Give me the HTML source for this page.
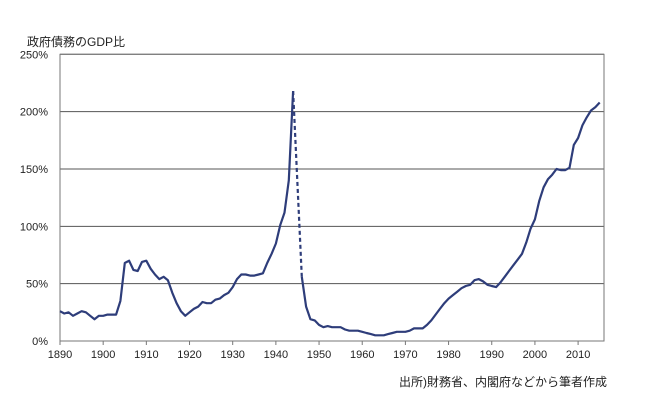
<!DOCTYPE html>
<html><head><meta charset="utf-8"><style>
body{margin:0;background:#fff;width:650px;height:414px;overflow:hidden}
text{font-family:"Liberation Sans","Noto Sans CJK JP",sans-serif;fill:#222}
</style></head><body>
<svg id="chart" width="650" height="414" viewBox="0 0 650 414" xmlns="http://www.w3.org/2000/svg">
<text x="27" y="46" font-size="12">政府債務のGDP比</text>
<g id="grid"></g><g id="axes"></g><g id="series"></g>
<text x="607" y="386" font-size="12" text-anchor="end">出所)財務省、内閣府などから筆者作成</text>
</svg>
<script>
const years1 = [1890,1891,1892,1893,1894,1895,1896,1897,1898,1899,1900,1901,1902,1903,1904,1905,1906,1907,1908,1909,1910,1911,1912,1913,1914,1915,1916,1917,1918,1919,1920,1921,1922,1923,1924,1925,1926,1927,1928,1929,1930,1931,1932,1933,1934,1935,1936,1937,1938,1939,1940,1941,1942,1943,1944];
const values1 = [26,24,25,22,24,26,25,22,19,22,22,23,23,23,35,68,70,62,61,69,70,63,58,54,56,53,42,33,26,22,25,28,30,34,33,33,36,37,40,42,47,54,58,58,57,57,58,59,68,76,85,101,112,140,218];
const yearsGap = [1944,1946];
const valuesGap = [218,56];
const years2 = [1946,1947,1948,1949,1950,1951,1952,1953,1954,1955,1956,1957,1958,1959,1960,1961,1962,1963,1964,1965,1966,1967,1968,1969,1970,1971,1972,1973,1974,1975,1976,1977,1978,1979,1980,1981,1982,1983,1984,1985,1986,1987,1988,1989,1990,1991,1992,1993,1994,1995,1996,1997,1998,1999,2000,2001,2002,2003,2004,2005,2006,2007,2008,2009,2010,2011,2012,2013,2014,2015];
const values2 = [56,30,19,18,14,12,13,12,12,12,10,9,9,9,8,7,6,5,5,5,6,7,8,8,8,9,11,11,11,14,18,23,28,33,37,40,43,46,48,49,53,54,52,49,48,47,51,56,61,66,71,76,86,98,106,122,134,141,145,150,149,149,151,171,177,188,195,201,204,208];
const yTicks = [0,50,100,150,200,250];
const yTickLabels = ["0%","50%","100%","150%","200%","250%"];
const xTicks = [1890,1900,1910,1920,1930,1940,1950,1960,1970,1980,1990,2000,2010];

const L=60,R=604,T=54.3,B=341,X0=1890,X1=2016;
const xs=y=>L+(y-X0)/(X1-X0)*(R-L);
const ys=v=>B-v/250*(B-T);
const NS="http://www.w3.org/2000/svg";
function mk(tag,attrs,parent){const e=document.createElementNS(NS,tag);for(const k in attrs)e.setAttribute(k,attrs[k]);parent.appendChild(e);return e;}
const grid=document.getElementById('grid'),axes=document.getElementById('axes'),series=document.getElementById('series');
yTicks.forEach((v,i)=>{
  if(v>0){const g=mk('line',{x1:L,x2:R,y1:ys(v),y2:ys(v),stroke:'#555','stroke-width':1},grid);
  
  }
  const t=mk('text',{x:48,y:ys(v)+4,'font-size':11,'text-anchor':'end'},axes);
  t.textContent=yTickLabels[i];
  
  
});
const frame=mk('rect',{x:L,y:T,width:R-L,height:B-T,fill:'none',stroke:'#777','stroke-width':1},axes);


xTicks.forEach(y=>{
  const tk=mk('line',{x1:xs(y),x2:xs(y),y1:B,y2:B+4,stroke:'#777'},axes);
  
  
  const t=mk('text',{x:xs(y),y:B+17,'font-size':11,'text-anchor':'middle'},axes);
  t.textContent=y;
  
  
});
const pts=(a,b)=>a.map((y,i)=>xs(y).toFixed(1)+','+ys(b[i]).toFixed(1)).join(' ');
const p1=mk('polyline',{points:pts(years1,values1),fill:'none',stroke:'#2e3d7a','stroke-width':2.2,'stroke-linejoin':'round'},series);


const pg=mk('polyline',{points:pts(yearsGap,valuesGap),fill:'none',stroke:'#2e3d7a','stroke-width':2.2,'stroke-dasharray':'4,3'},series);


const p2=mk('polyline',{points:pts(years2,values2),fill:'none',stroke:'#2e3d7a','stroke-width':2.2,'stroke-linejoin':'round'},series);


</script>
</body></html>
